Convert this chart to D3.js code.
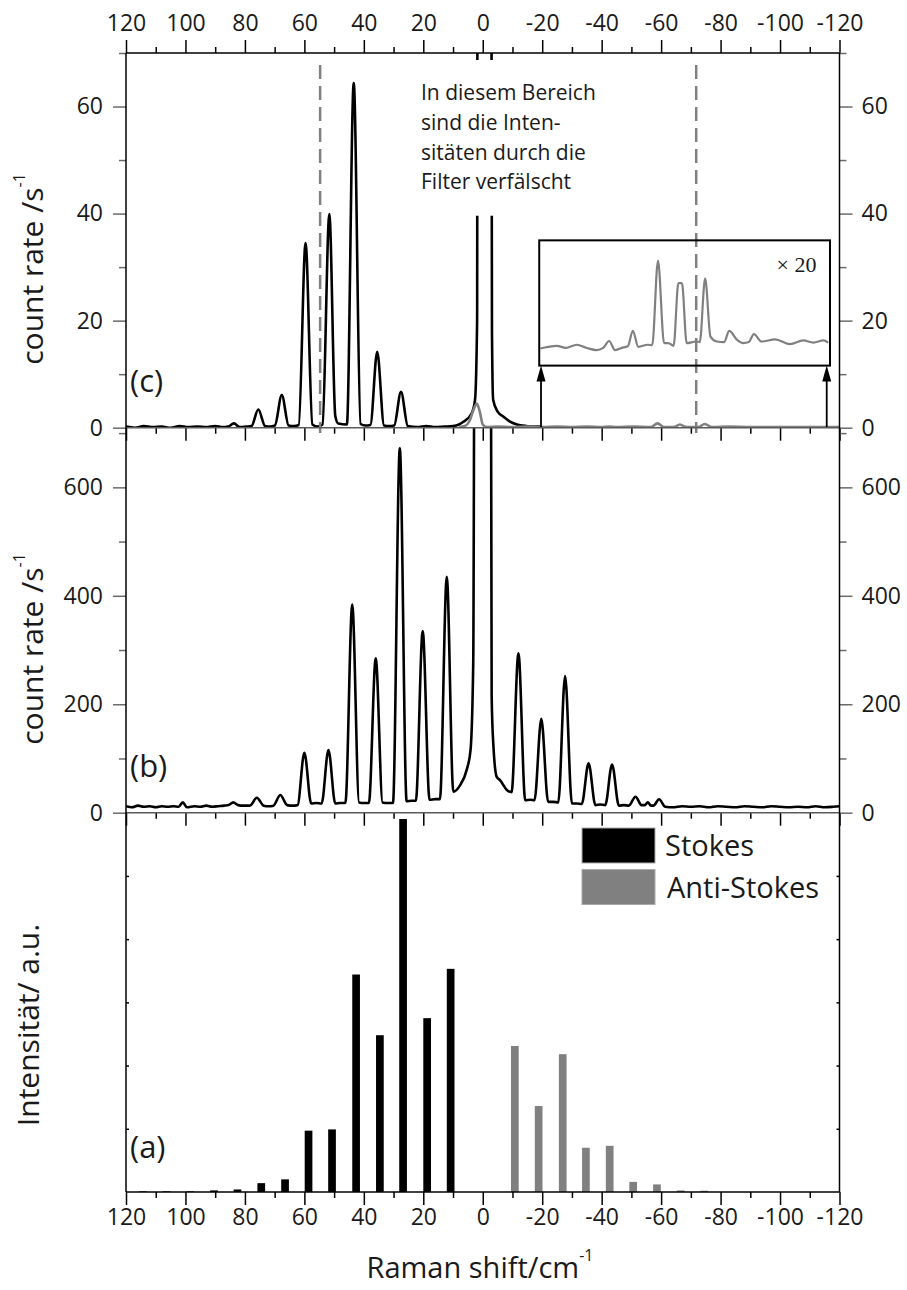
<!DOCTYPE html>
<html>
<head>
<meta charset="utf-8">
<script src="https://cdn.jsdelivr.net/npm/d3@7"></script>
<style>
    body { margin: 0; background: #fff; }
    svg text { font-family: "Open Sans", sans-serif; fill: #1a1a1a; }
</style>
</head>
<body>
<svg id="chart" width="907" height="1290"></svg>
<script>

// ---- data ----

// x ticks (Raman shift, cm^-1), axis runs from +120 to -120
const xMajor = [120, 100, 80, 60, 40, 20, 0, -20, -40, -60, -80, -100, -120];
const xMinor = [110, 90, 70, 50, 30, 10, -10, -30, -50, -70, -90, -110];

const cMajor = [0, 20, 40, 60];
const cMinor = [10, 30, 50, 70];
const bMajor = [0, 200, 400, 600];
const bMinor = [100, 300, 500, 700];
const aTicks = [1, 2, 3, 4, 5];

// (c) measured spectrum, black part [shift, counts/s]
const cBlack = [[120,0.2],[117,0.0],[114,0.3],[111,0.1],[108,0.2],[105,0.0],[102,0.3],[99,0.1],[96,0.2],[93,0.1],
    [90,0.3],[87.5,0.1],[85.6,0.2],[83.7,0.8],[81.8,0.1],[79.5,0.2],[77.8,0.3],[75.5,3.4],[73.2,0.3],[71.5,0.2],
    [69.9,0.4],[67.6,6.1],[65.3,0.4],[63.5,0.3],[61.9,0.5],[59.6,34.5],[57.3,0.6],[55.5,0.2],[53.9,0.6],[51.6,39.9],
    [49.6,2.2],[48.6,0.8],[45.7,0.6],[43.4,64.4],[41.1,0.7],[39.5,0.4],[37.8,0.5],[35.5,14.2],[33.2,0.4],[31.5,0.3],
    [29.8,0.4],[27.5,6.7],[25.2,0.3],[22,0.1],[19,0.3],[16,0.1],[13,0.2],[10,0.3],[8,0.6],[6.5,1.1],[3.7,2.7],
    [2.6,5.2],[1.9,20],[1.7,130],[-2.8,130],[-3.1,18],[-3.5,5.2],[-5.0,3.0],[-6.9,2.1],[-9,1.2],[-11.5,0.6],
    [-14.8,0.3],[-17,0.2],[-19.4,0.2]];

// (c) anti-Stokes side, grey
const cGrey = [[8.0,0.1],[6.0,0.3],[4.5,1.2],[3.2,3.2],[2.0,4.5],[1.0,3.0],[0.0,0.6],[-1.5,0.1],[-5,0.2],[-10,0.1],
    [-15,0.2],[-20,0.1],[-25,0.2],[-30,0.1],[-35,0.2],[-40,0.1],[-42.5,0.2],[-45,0.1],[-50.5,0.2],[-56.5,0.1],
    [-58.8,0.8],[-61,0.1],[-64.3,0.1],[-66.3,0.6],[-68.5,0.1],[-72.5,0.1],[-74.7,0.7],[-77,0.1],[-83,0.2],
    [-90,0.1],[-100,0.1],[-110,0.1],[-120,0.1]];

// (c) inset, grey part x20 (plotted in the (c) count units)
const cInset = [[-19.3,14.8],[-22,15.1],[-24.9,15.3],[-28,14.9],[-31.6,15.5],[-35,14.9],[-38.3,14.5],[-40.5,14.9],
    [-42.5,16.2],[-44.5,14.5],[-47.3,15.0],[-48.8,15.2],[-50.5,18.1],[-52.3,15.1],[-55.5,15.5],[-57.0,15.4],
    [-58.95,31.2],[-61.0,15.8],[-62.4,15.8],[-64.2,15.3],[-65.8,27.0],[-67.0,27.0],[-68.6,15.8],[-71.7,16.1],
    [-73.0,16.0],[-74.8,27.9],[-76.6,17.0],[-78.7,16.1],[-81.2,16.0],[-82.9,18.1],[-85.4,16.5],[-87.6,15.8],
    [-89.5,16.0],[-91.2,17.5],[-93.8,16.1],[-98.3,16.5],[-103.4,15.6],[-107.8,16.3],[-111.2,15.9],[-114.6,16.3],
    [-116.2,15.9]];

// (b) measured spectrum [shift, counts/s]
const bLine = [[120,12],[118,10],[116,13],[114,11],[112,12],[110,10],[108,12],[106,11],[104,12],[102.3,11],
    [100.9,19],[99.5,10],[97,12],[95,11],[93,13],[91,11],[89,12],[87,13],[85.5,14],[83.9,19],[82.3,14],[80.5,13],
    [78.3,13],[76.0,27.7],[73.7,13],[72,12],[70.4,13],[68.1,32.6],[65.8,14],[64,13],[62.3,14],[60.0,110.6],
    [57.7,17],[56,18],[54.2,17],[51.9,115.6],[49.6,17],[48,18],[46.2,18],[43.9,384],[41.6,19],[40,18],[38.3,18],
    [36.0,284.6],[33.7,19],[32,18],[30.2,18],[27.9,672],[25.6,21],[24,22],[22.5,22],[20.2,335],[17.9,24],[16,25],
    [14.4,25],[12.1,435],[9.9,38.7],[7.6,51],[5.4,79],[4.1,116],[3.2,276],[2.5,1500],[-2.5,1500],[-3.0,214],
    [-3.6,122],[-4.7,66],[-5.8,60],[-8.1,42],[-9.7,38],[-12.0,294],[-14.3,23],[-16,24],[-17.4,23],[-19.7,173],
    [-22.0,20],[-23.7,20],[-25.4,19],[-27.7,252],[-30.0,17],[-31.7,17],[-33.3,16],[-35.6,91],[-37.9,14],[-39.5,15],
    [-41.2,14],[-43.5,89],[-45.8,13],[-47.5,14],[-49.1,13],[-51.4,29.5],[-53.4,14],[-54.5,14],[-55.5,19],
    [-56.6,13],[-57.4,13],[-59.3,24.7],[-61.4,11],[-64,10],[-67,12],[-70,11],[-73,12],[-76,10],[-79,12],[-82,11],
    [-85,10],[-88,12],[-91,11],[-94,10],[-97,12],[-100,11],[-103,10],[-106,11],[-109,10],[-112,12],[-115,10],
    [-118,11],[-120,12]];

// (a) calculated line intensities
const stokesPos = [10.8, 18.7, 26.8, 34.6, 42.6, 50.7, 58.6, 66.5, 74.5, 82.5, 90.4, 98.4, 106.4, 114.3];
const stokesInt = [3.53, 2.75, 5.90, 2.48, 3.44, 0.99, 0.97, 0.20, 0.14, 0.04, 0.025, 0.01, 0.01, 0.01];
const antiPos = [-10.8, -18.8, -26.9, -34.7, -42.7, -50.6, -58.6, -66.6, -74.5];
const antiInt = [2.31, 1.36, 2.18, 0.70, 0.73, 0.16, 0.12, 0.025, 0.02];

// region where filters distort the intensities
const filterEdges = [54.7, -71.8];
const insetX = [-19.0, -116.8];
const insetY = [11.6, 35.0];
const arrowX = [-19.6, -115.7];

const legendItems = ["Stokes", "Anti-Stokes"];
const annotLines = ["In diesem Bereich", "sind die Inten-", "sitäten durch die", "Filter verfälscht"];

// ---- layout ----

let svg = d3.select("#chart");

let left = 126, right = 839.5;
let cTop = 53, cBottom = 427.7, bBottom = 812.7, aBottom = 1192;

let x = d3.scaleLinear().domain([120, -120]).range([left, right]);
let yC = d3.scaleLinear().domain([0, 70]).range([cBottom, cTop]);
let yB = d3.scaleLinear().domain([0, 710]).range([bBottom, cBottom]);
let yA = d3.scaleLinear().domain([0, 6]).range([aBottom, bBottom]);

let black = "#000";
let grey = "#808080";
let lineW = 2.6;

let defs = svg.append("defs");
addClip("clipC", cTop, cBottom);
addClip("clipB", cBottom, bBottom);

drawPanelC();
drawPanelB();
drawPanelA();
drawAxes();
drawLabels();


function addClip(id, y0, y1)
{
    defs.append("clipPath")
    .attr("id", id)
    .append("rect")
    .attr("x", left)
    .attr("y", y0)
    .attr("width", right - left)
    .attr("height", y1 - y0);
}

function lineFor(yScale)
{
    return d3.line()
    .x(d => x(d[0]))
    .y(d => yScale(d[1]))
    .curve(d3.curveMonotoneX);
}

function drawPanelC()
{
    let g = svg.append("g").attr("clip-path", "url(#clipC)");

    g.append("path")
    .datum(cBlack)
    .attr("d", lineFor(yC))
    .attr("fill", "none")
    .attr("stroke", black)
    .attr("stroke-width", lineW)
    .attr("stroke-linejoin", "round");

    g.append("path")
    .datum(cGrey)
    .attr("d", lineFor(yC))
    .attr("fill", "none")
    .attr("stroke", grey)
    .attr("stroke-width", lineW)
    .attr("stroke-linejoin", "round");

    // white backing of the annotation hides the clipped laser line
    svg.append("rect")
    .attr("x", 415)
    .attr("y", 60)
    .attr("width", 190)
    .attr("height", yC(39.6) - 60)
    .attr("fill", "#fff");

    // dashed filter edges
    svg.selectAll(".filter-edge")
    .data(filterEdges)
    .enter()
    .append("line")
    .attr("class", "filter-edge")
    .attr("x1", d => x(d))
    .attr("x2", d => x(d))
    .attr("y1", 65)
    .attr("y2", yC(-1))
    .attr("stroke", grey)
    .attr("stroke-width", 2.5)
    .attr("stroke-dasharray", "14 7");

    // inset box
    svg.append("rect")
    .attr("x", x(insetX[0]))
    .attr("y", yC(insetY[1]))
    .attr("width", x(insetX[1]) - x(insetX[0]))
    .attr("height", yC(insetY[0]) - yC(insetY[1]))
    .attr("fill", "none")
    .attr("stroke", black)
    .attr("stroke-width", 2);

    svg.append("path")
    .datum(cInset)
    .attr("d", lineFor(yC))
    .attr("fill", "none")
    .attr("stroke", grey)
    .attr("stroke-width", 2.2);

    svg.append("text")
    .attr("x", 776.5)
    .attr("y", 272)
    .style("font-family", "'Liberation Serif', serif")
    .style("font-size", "22px")
    .text("× 20");

    // arrows up to the inset
    let tip = yC(insetY[0]);
    arrowX.forEach(function(v){
        svg.append("line")
        .attr("x1", x(v))
        .attr("x2", x(v))
        .attr("y1", yC(0))
        .attr("y2", tip + 14)
        .attr("stroke", black)
        .attr("stroke-width", 1.8);

        svg.append("path")
        .attr("d", "M" + x(v) + "," + tip + " l-4.5,16 l9,0 z")
        .attr("fill", black);
    });

    // annotation text
    svg.selectAll(".annot")
    .data(annotLines)
    .enter()
    .append("text")
    .attr("class", "annot")
    .attr("x", 421)
    .attr("y", (d, i) => 100 + i * 29.8)
    .style("font-size", "21px")
    .text(d => d);
}

function drawPanelB()
{
    svg.append("g")
    .attr("clip-path", "url(#clipB)")
    .append("path")
    .datum(bLine)
    .attr("d", lineFor(yB))
    .attr("fill", "none")
    .attr("stroke", black)
    .attr("stroke-width", lineW)
    .attr("stroke-linejoin", "round");
}

function drawPanelA()
{
    let barW = 7.7;

    svg.selectAll(".stokes")
    .data(stokesPos)
    .enter()
    .append("rect")
    .attr("class", "stokes")
    .attr("x", d => x(d) - barW / 2)
    .attr("y", (d, i) => yA(stokesInt[i]))
    .attr("width", barW)
    .attr("height", (d, i) => yA(0) - yA(stokesInt[i]))
    .attr("fill", black);

    svg.selectAll(".anti")
    .data(antiPos)
    .enter()
    .append("rect")
    .attr("class", "anti")
    .attr("x", d => x(d) - barW / 2)
    .attr("y", (d, i) => yA(antiInt[i]))
    .attr("width", barW)
    .attr("height", (d, i) => yA(0) - yA(antiInt[i]))
    .attr("fill", grey);

    // legend
    let lg = svg.append("g").attr("transform", "translate(582,828)");
    legendItems.forEach(function(name, i){
        lg.append("rect")
        .attr("x", 0)
        .attr("y", i * 41.5)
        .attr("width", 73)
        .attr("height", 35)
        .attr("fill", i == 0 ? black : grey)
        .attr("stroke", "#aaa")
        .attr("stroke-width", 1);

        lg.append("text")
        .attr("x", 83 + i * 2)
        .attr("y", 28 + i * 42)
        .style("font-size", "29px")
        .text(name);
    });
}

function styleAxis(g, colour)
{
    g.select(".domain").remove();
    g.selectAll(".tick line").attr("stroke", colour).attr("stroke-width", 1.5);
    g.selectAll(".tick text").style("font-size", "23px").attr("fill", "#1a1a1a");
}

function drawAxes()
{
    let fmt = d => String(d);

    // top axis with labels
    svg.append("g")
    .attr("transform", "translate(0," + cTop + ")")
    .call(d3.axisTop(x).tickValues(xMajor).tickSize(13).tickPadding(9).tickFormat(fmt))
    .call(g => styleAxis(g, black));

    svg.append("g")
    .attr("transform", "translate(0," + cTop + ")")
    .call(d3.axisTop(x).tickValues(xMinor).tickSize(6).tickFormat(""))
    .call(g => styleAxis(g, black));

    // panel boundaries, ticks pointing down
    [cBottom, bBottom].forEach(function(yy){
        svg.append("g")
        .attr("transform", "translate(0," + yy + ")")
        .call(d3.axisBottom(x).tickValues(xMajor).tickSize(13).tickFormat(""))
        .call(g => styleAxis(g, black));

        svg.append("g")
        .attr("transform", "translate(0," + yy + ")")
        .call(d3.axisBottom(x).tickValues(xMinor).tickSize(6).tickFormat(""))
        .call(g => styleAxis(g, black));
    });

    // bottom axis with labels
    svg.append("g")
    .attr("transform", "translate(0," + aBottom + ")")
    .call(d3.axisBottom(x).tickValues(xMajor).tickSize(13).tickPadding(4).tickFormat(fmt))
    .call(g => styleAxis(g, black));

    svg.append("g")
    .attr("transform", "translate(0," + aBottom + ")")
    .call(d3.axisBottom(x).tickValues(xMinor).tickSize(6).tickFormat(""))
    .call(g => styleAxis(g, black));

    // y axes for (c) and (b), both sides
    [[yC, cMajor, cMinor], [yB, bMajor, bMinor]].forEach(function(p){
        svg.append("g")
        .attr("transform", "translate(" + left + ",0)")
        .call(d3.axisLeft(p[0]).tickValues(p[1]).tickSize(13).tickPadding(10).tickFormat(fmt))
        .call(g => styleAxis(g, "#6b6b6b"));

        svg.append("g")
        .attr("transform", "translate(" + left + ",0)")
        .call(d3.axisLeft(p[0]).tickValues(p[2]).tickSize(7).tickFormat(""))
        .call(g => styleAxis(g, "#6b6b6b"));

        svg.append("g")
        .attr("transform", "translate(" + right + ",0)")
        .call(d3.axisRight(p[0]).tickValues(p[1]).tickSize(13).tickPadding(9).tickFormat(fmt))
        .call(g => styleAxis(g, "#6b6b6b"));

        svg.append("g")
        .attr("transform", "translate(" + right + ",0)")
        .call(d3.axisRight(p[0]).tickValues(p[2]).tickSize(7).tickFormat(""))
        .call(g => styleAxis(g, "#6b6b6b"));
    });

    // (a): short inward ticks, no labels
    svg.append("g")
    .attr("transform", "translate(" + left + ",0)")
    .call(d3.axisRight(yA).tickValues(aTicks).tickSize(3).tickFormat(""))
    .call(g => styleAxis(g, black));

    svg.append("g")
    .attr("transform", "translate(" + right + ",0)")
    .call(d3.axisLeft(yA).tickValues(aTicks).tickSize(3).tickFormat(""))
    .call(g => styleAxis(g, black));

    // frame
    svg.append("line")
    .attr("x1", left).attr("x2", right).attr("y1", cTop).attr("y2", cTop)
    .attr("stroke", black).attr("stroke-width", 1.5);

    [cBottom, bBottom].forEach(function(yy){
        svg.append("line")
        .attr("x1", left).attr("x2", right).attr("y1", yy).attr("y2", yy)
        .attr("stroke", "#5a5a5a").attr("stroke-width", 1.5);
    });

    svg.append("line")
    .attr("x1", left).attr("x2", right).attr("y1", aBottom).attr("y2", aBottom)
    .attr("stroke", black).attr("stroke-width", 1.5);

    [left, right].forEach(function(xx){
        svg.append("line")
        .attr("x1", xx).attr("x2", xx).attr("y1", cTop).attr("y2", aBottom)
        .attr("stroke", black).attr("stroke-width", 1.5);
    });
}

function drawLabels()
{
    // y axis titles
    [["count rate /s", 269, 43.3], ["count rate /s", 649, 43.3]].forEach(function(l){
        let t = svg.append("text")
        .attr("transform", "translate(" + l[2] + "," + l[1] + ") rotate(-90)")
        .attr("text-anchor", "middle")
        .style("font-size", "30px")
        .text(l[0]);

        t.append("tspan")
        .attr("dy", -18)
        .style("font-size", "16px")
        .text("-1");
    });

    svg.append("text")
    .attr("transform", "translate(39.3,1025) rotate(-90)")
    .attr("text-anchor", "middle")
    .style("font-size", "30px")
    .text("Intensität/ a.u.");

    // x axis title
    let xt = svg.append("text")
    .attr("x", 480)
    .attr("y", 1278)
    .attr("text-anchor", "middle")
    .style("font-size", "29px")
    .text("Raman shift/cm");

    xt.append("tspan")
    .attr("dy", -17)
    .style("font-size", "16px")
    .text("-1");

    // panel letters
    [["(c)", 392], ["(b)", 777], ["(a)", 1158]].forEach(function(p){
        svg.append("text")
        .attr("x", 130)
        .attr("y", p[1])
        .style("font-size", "31px")
        .text(p[0]);
    });
}

</script>
</body>
</html>
